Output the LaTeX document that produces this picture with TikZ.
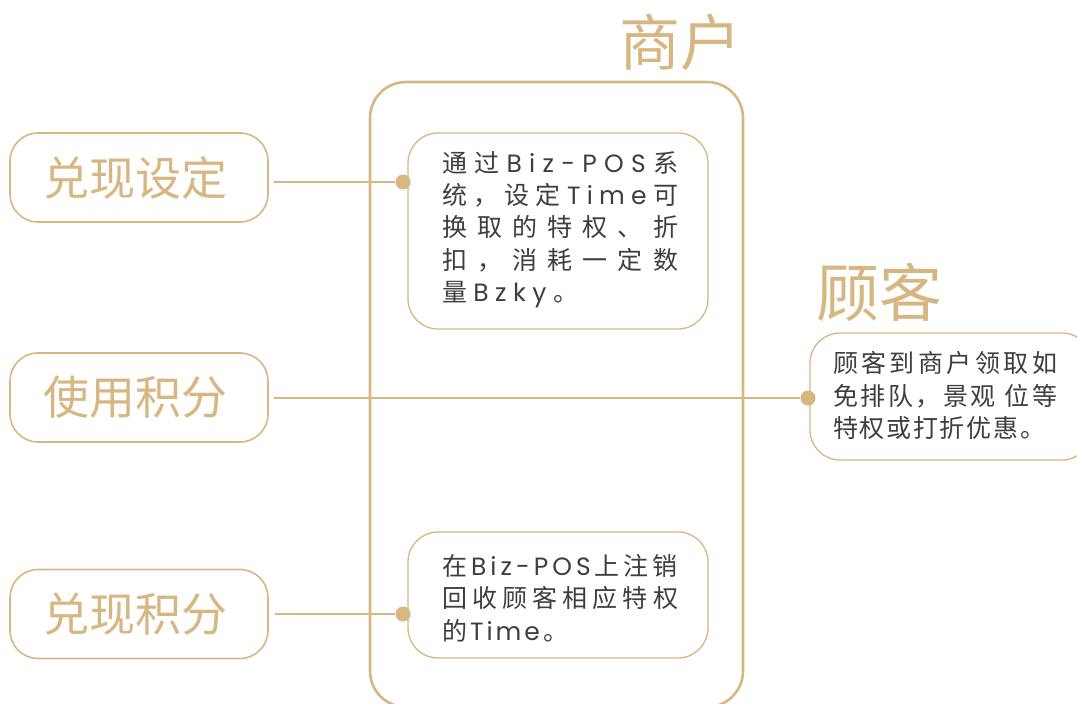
\documentclass[tikz,border=0pt]{standalone}
\usepackage{fontspec}
\newfontfamily\cjk{Noto Sans CJK SC}
\newfontfamily\lat{Poppins}
\newcommand\la[1]{{\lat #1}}
\definecolor{gold}{RGB}{214,183,130}
\definecolor{ink}{RGB}{62,62,62}
\begin{document}
\begin{tikzpicture}[x=1pt,y=-1pt,
  lbl/.style={draw=gold, line width=1.6pt, rounded corners=28pt, minimum width=258pt, minimum height=89pt, inner sep=0pt, text=gold, font=\cjk\fontsize{46}{46}\selectfont},
  frame/.style={draw=gold, line width=2.6pt, rounded corners=36pt, inner sep=0pt},
  card/.style={draw=gold, line width=1.3pt, rounded corners=30pt, fill=white, inner sep=0pt},
  dotn/.style={circle, fill=gold, minimum size=15pt, inner sep=0pt},
  conn/.style={draw=gold, line width=1.5pt},
  body/.style={text=ink, font=\cjk\fontsize{25}{32.3}\selectfont, align=left, inner sep=0pt},
  title/.style={text=gold, inner sep=0pt}]
\useasboundingbox (0,0) rectangle (1077,704);
% frame of the merchant
\node[frame, minimum width=373pt, minimum height=625pt] (m) at (556.5,394.5) {};
\node[title, font=\cjk\fontsize{61}{61}\selectfont] (tm) at (680,42) {商户};
\node[title, font=\cjk\fontsize{63}{63}\selectfont] (tc) at (879,292) {顾客};
% left labels
\node[lbl] (l1) at (139,177.5) {兑现设定\kern7pt};
\node[lbl] (l2) at (139,397.5) {使用积分\kern7pt};
\node[lbl] (l3) at (139,614) {兑现积分\kern7pt};
% cards
\node[card, minimum width=300pt, minimum height=196pt] (c1) at (558,231) {};
\node[card, minimum width=300pt, minimum height=126pt] (c3) at (558,595) {};
\node[card, minimum width=282pt, minimum height=127pt] (c2) at (951,396.5) {};
% card texts
\node[body] (t1) at (560,229.5) {%
\makebox[236pt][s]{通\hfill 过\hfill\la{B}\hfill\la{i}\hfill\la{z}\hfill\la{-}\hfill\la{P}\hfill\la{O}\hfill\la{S}\hfill 系}\\
\makebox[236pt][s]{统\hfill ，\hfill 设\hfill 定\hfill\la{T}\hfill\la{i}\hfill\la{m}\hfill\la{e}\hfill 可}\\
\makebox[236pt][s]{换\hfill 取\hfill 的\hfill 特\hfill 权\hfill 、\hfill 折}\\
\makebox[236pt][s]{扣\hfill ，\hfill 消\hfill 耗\hfill 一\hfill 定\hfill 数}\\
\makebox[236pt][l]{\makebox[136pt][s]{量\hfill\la{B}\hfill\la{z}\hfill\la{k}\hfill\la{y}\hfill 。}}};
\node[body] (t3) at (560,598) {%
\makebox[236pt][s]{在\hfill\la{B}\hfill\la{i}\hfill\la{z}\hfill\la{-}\hfill\la{P}\hfill\la{O}\hfill\la{S}\hfill 上\hfill 注\hfill 销}\\
\makebox[236pt][s]{回\hfill 收\hfill 顾\hfill 客\hfill 相\hfill 应\hfill 特\hfill 权}\\
\makebox[236pt][l]{\makebox[126pt][s]{的\hfill\la{T}\hfill\la{i}\hfill\la{m}\hfill\la{e}\hfill 。}}};
\node[body] (t2) at (945,395.5) {%
\makebox[224pt][s]{顾\hfill 客\hfill 到\hfill 商\hfill 户\hfill 领\hfill 取\hfill 如}\\
\makebox[224pt][s]{免\hfill 排\hfill 队\hfill ，\hfill 景\hfill 观\hspace{6pt}\hfill 位\hfill 等}\\
\makebox[224pt][l]{\makebox[212pt][s]{特\hfill 权\hfill 或\hfill 打\hfill 折\hfill 优\hfill 惠\hfill 。}}};
% dots
\node[dotn] (d1) at (403,182) {};
\node[dotn] (d2) at (808,398) {};
\node[dotn] (d3) at (403,614) {};
% connectors
\draw[conn, shorten <=5pt] (l1.east |- d1) -- (d1);
\draw[conn, shorten <=5pt] (l2.east |- d2) -- (d2);
\draw[conn, shorten <=6pt] (l3.east |- d3) -- (d3);
\end{tikzpicture}
\end{document}
